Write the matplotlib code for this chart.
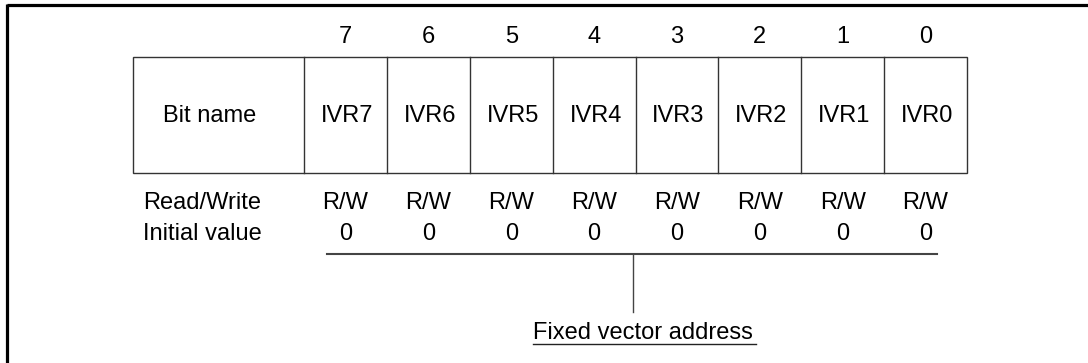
import matplotlib.pyplot as plt
from matplotlib.patches import Rectangle

bit_numbers = ["7", "6", "5", "4", "3", "2", "1", "0"]
bit_names = ["IVR7", "IVR6", "IVR5", "IVR4", "IVR3", "IVR2", "IVR1", "IVR0"]
read_write = ["R/W"] * 8
initial_values = ["0"] * 8
row_labels = ["Bit name", "Read/Write", "Initial value"]
note_text = "Fixed vector address"

W, H = 1088, 363
fig = plt.figure(figsize=(W / 100, H / 100), dpi=100)
ax = fig.add_axes([0, 0, 1, 1])
ax.set_xlim(0, W)
ax.set_ylim(H, 0)
ax.axis("off")

plt.rcParams["font.family"] = ["Liberation Sans", "DejaVu Sans"]
fs = 17
line_c = "#333333"

# outer frame (top and left only visible)
ax.plot([6.5, W], [4.5, 4.5], color="black", lw=2.3, solid_capstyle="butt")
ax.plot([6.5, 6.5], [3.5, H], color="black", lw=2.3, solid_capstyle="butt")

# register table
tbl_left, tbl_top, tbl_bot = 133, 57, 173
name_right = 304
cell_w = (967 - name_right) / len(bit_names)
ax.add_patch(Rectangle((tbl_left, tbl_top), 967 - tbl_left, tbl_bot - tbl_top,
                       fill=False, edgecolor=line_c, lw=1.0))
ax.text(210, 116, row_labels[0], fontsize=fs, ha="center", va="center")

for i, (num, name, rw, iv) in enumerate(zip(bit_numbers, bit_names, read_write, initial_values)):
    x0 = name_right + i * cell_w
    ax.plot([x0, x0], [tbl_top, tbl_bot], color=line_c, lw=1.0)
    xc = x0 + cell_w / 2
    ax.text(xc, 37, num, fontsize=fs, ha="center", va="center")
    ax.text(xc + 1.5, 116, name, fontsize=fs, ha="center", va="center")
    ax.text(xc, 203, rw, fontsize=fs, ha="center", va="center")
    ax.text(xc, 234, iv, fontsize=fs, ha="center", va="center")

ax.text(143, 203, row_labels[1], fontsize=fs, ha="left", va="center")
ax.text(143, 234, row_labels[2], fontsize=fs, ha="left", va="center")

# bracket line and leader to note
ax.plot([327, 937], [254, 254], color="#444444", lw=1.5)
ax.plot([633, 633], [254, 312], color="#444444", lw=1.0)
ax.text(533, 333, note_text, fontsize=fs, ha="left", va="center")
ax.plot([533, 756], [344, 344], color="#222222", lw=1.0)

fig.savefig("out.png", dpi=100)
